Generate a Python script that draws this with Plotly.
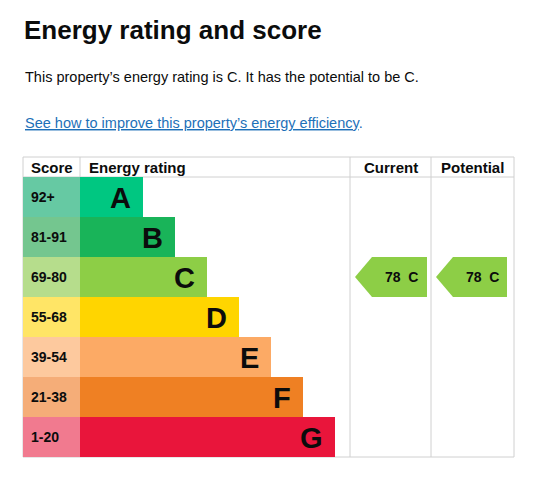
import plotly.graph_objects as go

bands = ["A", "B", "C", "D", "E", "F", "G"]
scores = ["92+", "81-91", "69-80", "55-68", "39-54", "21-38", "1-20"]
bar_len = [63, 95, 127, 159, 191, 223, 255]
colors = ["#00c781", "#19b459", "#8dce46", "#ffd500", "#fcaa65", "#ef8023", "#e9153b"]
score_colors = ["#66c9a3", "#74c68f", "#b6dd8c", "#ffe566", "#fdc99e", "#f5ad78", "#f17a8f"]
current = ("78", "C")
potential = ("78", "C")

FONT = "Liberation Sans, Arial, sans-serif"
top, head, rowh = 157, 177, 40
left, right, sc_right, c1, c2 = 23, 514, 80, 350, 431
ys = [head + rowh * (i + 0.5) for i in range(len(bands))]

fig = go.Figure()
fig.add_trace(go.Bar(orientation="h", y=ys, x=[sc_right - left] * 7, base=left, width=rowh,
                     marker=dict(color=score_colors, line_width=0), hoverinfo="skip"))
fig.add_trace(go.Bar(orientation="h", y=ys, x=bar_len, base=sc_right, width=rowh,
                     marker=dict(color=colors, line_width=0), hoverinfo="skip"))
for i, b in enumerate(bands):
    fig.add_annotation(x=sc_right + bar_len[i] - 10, y=ys[i] + 1, text=f"<b>{b}</b>", showarrow=False,
                       xanchor="right", font=dict(family=FONT, size=29, color="#0b0c0c"))
    fig.add_annotation(x=left + 6, y=ys[i], text=f"<b>{scores[i]}</b>", showarrow=False,
                       xanchor="left", font=dict(family=FONT, size=14, color="#0b0c0c"))

def arrow(x0, x1, val):
    i = bands.index(val[1])
    yc, h = ys[i], rowh / 2
    tip = 17
    fig.add_trace(go.Scatter(x=[x0, x0 + tip, x1, x1, x0 + tip, x0], y=[yc, yc - h, yc - h, yc + h, yc + h, yc],
                             fill="toself", fillcolor=colors[i], line_width=0, mode="lines", hoverinfo="skip"))
    fig.add_annotation(x=(x0 + tip + x1) / 2 + 2, y=yc, text=f"<b>{val[0]}  {val[1]}</b>", showarrow=False,
                       font=dict(family=FONT, size=14, color="#0b0c0c"))

arrow(355, 427, current)
arrow(436, 507, potential)

grid = dict(color="#d0d0d0", width=1)
bottom = head + rowh * 7
for (x0, y0, x1, y1) in [(left, top, right, top), (left, head, right, head), (left, bottom, right, bottom),
                         (left, top, left, bottom), (right, top, right, bottom), (sc_right, top, sc_right, head),
                         (c1, top, c1, bottom), (c2, top, c2, bottom)]:
    fig.add_shape(type="line", x0=x0, y0=y0, x1=x1, y1=y1, line=grid, layer="below")

hf = dict(family=FONT, size=15, color="#0b0c0c")
fig.add_annotation(x=left + 6, y=(top + head) / 2, text="<b>Score</b>", showarrow=False, xanchor="left", font=hf)
fig.add_annotation(x=sc_right + 7, y=(top + head) / 2, text="<b>Energy rating</b>", showarrow=False, xanchor="left", font=hf)
fig.add_annotation(x=(c1 + c2) / 2, y=(top + head) / 2, text="<b>Current</b>", showarrow=False, font=hf)
fig.add_annotation(x=(c2 + right) / 2, y=(top + head) / 2, text="<b>Potential</b>", showarrow=False, font=hf)

fig.add_annotation(x=22, y=30, text="<b>Energy rating and score</b>", showarrow=False, xanchor="left",
                   font=dict(family=FONT, size=26, color="#0b0c0c"))
fig.add_annotation(x=23, y=77, text="This property’s energy rating is C. It has the potential to be C.", showarrow=False,
                   xanchor="left", font=dict(family=FONT, size=14.5, color="#0b0c0c"))
fig.add_annotation(x=23, y=123, text="<span style='text-decoration:underline'>See how to improve this property’s energy efficiency</span>.",
                   showarrow=False, xanchor="left", font=dict(family=FONT, size=14.5, color="#1d70b8"))

fig.update_layout(width=546, height=485, margin=dict(l=0, r=0, t=0, b=0), showlegend=False,
                  plot_bgcolor="white", paper_bgcolor="white", bargap=0, barmode="overlay",
                  xaxis=dict(range=[0, 546], visible=False, fixedrange=True),
                  yaxis=dict(range=[485, 0], visible=False, fixedrange=True))
fig.write_html("out.html", config={"displayModeBar": False},
               post_script="document.body.style.margin='0';")
